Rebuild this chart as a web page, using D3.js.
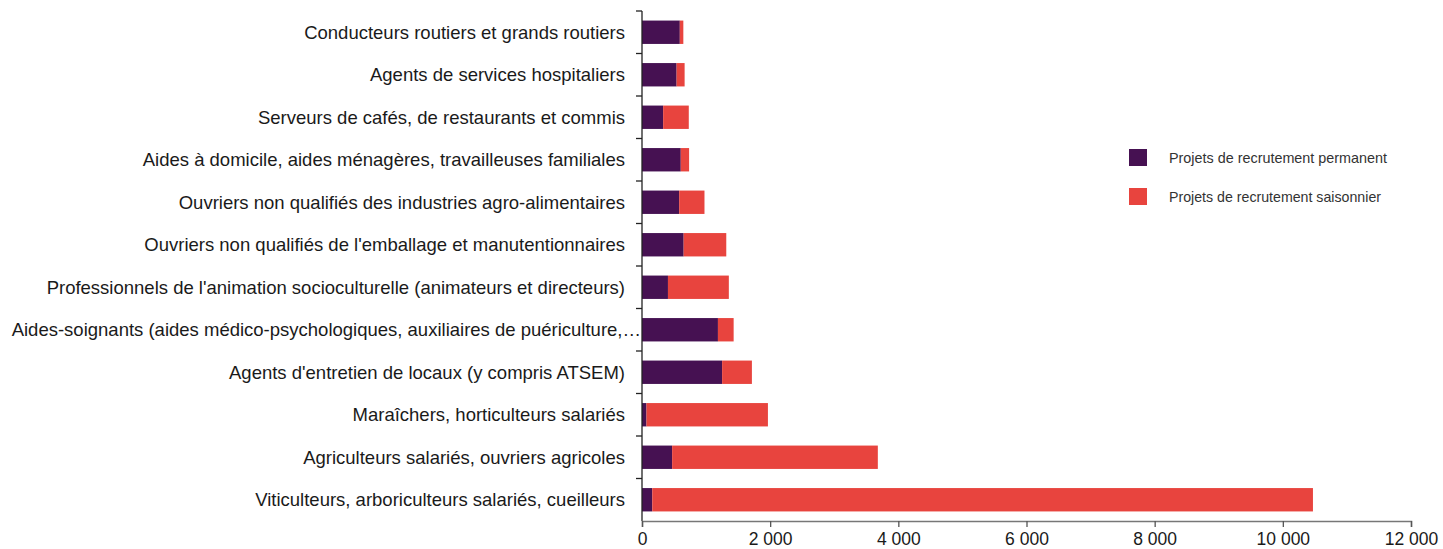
<!DOCTYPE html>
<html>
<head>
<meta charset="utf-8">
<script src="https://cdn.jsdelivr.net/npm/d3@7"></script>
<style>
  body { margin: 0; background: #fff; }
  svg { display: block; font-family: "Liberation Sans", Arial, sans-serif; }
</style>
</head>
<body>
<svg width="1443" height="549"></svg>
<script>
// métiers, du haut vers le bas
const categories = [
  "Conducteurs routiers et grands routiers",
  "Agents de services hospitaliers",
  "Serveurs de cafés, de restaurants et commis",
  "Aides à domicile, aides ménagères, travailleuses familiales",
  "Ouvriers non qualifiés des industries agro-alimentaires",
  "Ouvriers non qualifiés de l'emballage et manutentionnaires",
  "Professionnels de l'animation socioculturelle (animateurs et directeurs)",
  "Aides-soignants (aides médico-psychologiques, auxiliaires de puériculture,…",
  "Agents d'entretien de locaux (y compris ATSEM)",
  "Maraîchers, horticulteurs salariés",
  "Agriculteurs salariés, ouvriers agricoles",
  "Viticulteurs, arboriculteurs salariés, cueilleurs"
];
const permanent = [590, 540, 330, 605, 580, 650, 405, 1185, 1250, 70, 470, 160];
const saisonnier = [55, 125, 400, 130, 395, 665, 950, 245, 465, 1895, 3210, 10310];
const xTicks = [0, 2000, 4000, 6000, 8000, 10000, 12000];
const seriesNames = ["Projets de recrutement permanent", "Projets de recrutement saisonnier"];
const colors = ["#461152", "#e8443e"];

const svg = d3.select("svg");
const mLeft = 642, mRight = 1411, mTop = 11, mBottom = 521;

const x = d3.scaleLinear().domain([0, 12000]).range([mLeft, mRight]);
const y = d3.scaleBand().domain(categories).range([mTop, mBottom]).paddingInner(0.45).paddingOuter(0.225);

const rows = categories.map((c, i) => ({ cat: c, perm: permanent[i], sais: saisonnier[i] }));
const stack = d3.stack().keys(["perm", "sais"])(rows);

svg.append("g")
  .selectAll("g")
  .data(stack)
  .join("g")
  .attr("fill", (d, i) => colors[i])
  .selectAll("rect")
  .data(d => d)
  .join("rect")
  .attr("x", d => x(d[0]))
  .attr("width", d => x(d[1]) - x(d[0]))
  .attr("y", d => y(d.data.cat))
  .attr("height", y.bandwidth());

// axe vertical : ticks aux limites des catégories
const yAxis = svg.append("g");
yAxis.append("line")
  .attr("x1", mLeft).attr("x2", mLeft)
  .attr("y1", mTop).attr("y2", mBottom)
  .attr("stroke", "#222").attr("stroke-width", 1.3);
const bandH = (mBottom - mTop) / categories.length;
yAxis.selectAll("line.tk")
  .data(d3.range(categories.length))
  .join("line")
  .attr("class", "tk")
  .attr("x1", mLeft - 6).attr("x2", mLeft)
  .attr("y1", i => mTop + i * bandH)
  .attr("y2", i => mTop + i * bandH)
  .attr("stroke", "#222").attr("stroke-width", 1.3);
yAxis.selectAll("text")
  .data(categories)
  .join("text")
  .attr("x", (d, i) => i === 7 ? mLeft - 1 : mLeft - 17)
  .attr("y", d => y(d) + y.bandwidth() / 2)
  .attr("dy", "0.35em")
  .attr("text-anchor", "end")
  .attr("font-size", 18.5)
  .attr("fill", "#1a1a1a")
  .text(d => d);

// axe horizontal
const xAxis = svg.append("g").attr("transform", `translate(0,${mBottom})`)
  .call(d3.axisBottom(x).tickValues(xTicks).tickSizeOuter(0).tickSize(6)
    .tickFormat(d => d3.format(",")(d).replace(/,/g, " ")));
xAxis.select(".domain").attr("stroke", "#777").attr("stroke-width", 1.5);
xAxis.selectAll(".tick line").attr("stroke", "#555").attr("stroke-width", 1.3);
xAxis.selectAll(".tick text")
  .attr("font-size", 17.5)
  .attr("font-family", "\"Liberation Sans\", Arial, sans-serif")
  .attr("fill", "#1a1a1a")
  .attr("y", 12);

// légende
const legend = svg.append("g");
seriesNames.forEach((name, i) => {
  const ly = 149 + i * 39;
  legend.append("rect")
    .attr("x", 1129).attr("y", ly)
    .attr("width", 18).attr("height", 17)
    .attr("fill", colors[i]);
  legend.append("text")
    .attr("x", 1169).attr("y", ly + 8.5)
    .attr("dy", "0.35em")
    .attr("font-size", 15)
    .attr("font-family", "\"Liberation Sans Narrow\", \"Liberation Sans\", sans-serif")
    .attr("fill", "#333")
    .attr("textLength", i === 0 ? 218 : 212)
    .attr("lengthAdjust", "spacingAndGlyphs")
    .text(name);
});
</script>
</body>
</html>
